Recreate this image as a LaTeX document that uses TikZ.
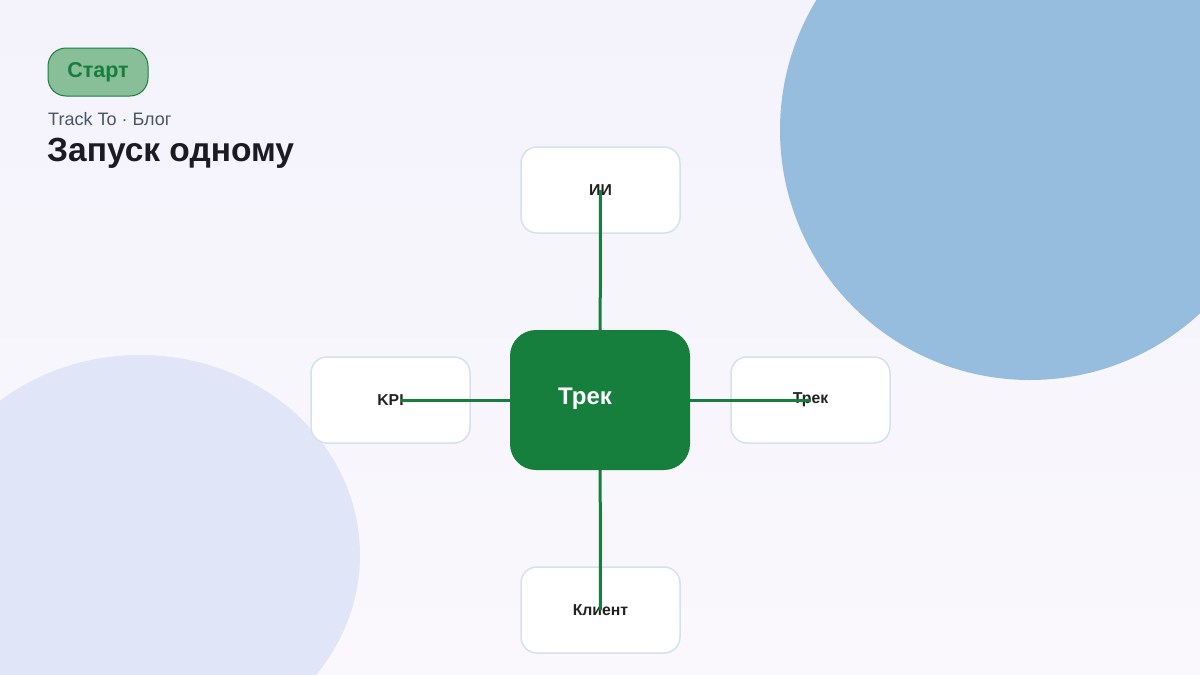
\documentclass[tikz,border=0pt]{standalone}
\usepackage{fontspec}
\setmainfont{Liberation Sans}
\definecolor{bgtop}{HTML}{F4F3FC}
\definecolor{bgbot}{HTML}{FAF8FC}
\definecolor{circA}{HTML}{97BDDE}
\definecolor{circB}{HTML}{E0E5F7}
\definecolor{brand}{HTML}{177F3E}
\definecolor{badge}{HTML}{88BF98}
\definecolor{satline}{HTML}{D5E1EC}
\definecolor{subgrey}{HTML}{4A5568}
\definecolor{titleink}{HTML}{1C1B22}
\definecolor{satink}{HTML}{222222}
\tikzset{
  sat/.style={draw=satline, line width=1.5pt, fill=white, rounded corners=16pt,
    minimum width=159pt, minimum height=86pt, inner sep=0pt,
    font=\fontsize{15.8}{18}\selectfont\bfseries, text=satink},
  hub/.style={fill=brand, rounded corners=26pt, minimum width=180pt, minimum height=140pt, inner sep=0pt},
  link/.style={draw=brand, line width=3pt},
}
\begin{document}
\begin{tikzpicture}[x=1pt,y=-1pt]
\useasboundingbox (0,0) rectangle (1200,675);
\shade[top color=bgtop, bottom color=bgbot] (0,0) rectangle (1200,675);
\clip (0,0) rectangle (1200,675);
\fill[circA] (1030,130) circle (250);
\fill[circB] (140,555) ellipse [x radius=220, y radius=200];
% badge and titles
\node[draw=brand, line width=1pt, fill=badge, rounded corners=18pt, minimum width=100pt, minimum height=48pt, inner sep=0pt, text=brand, font=\fontsize{21.5}{24}\selectfont\bfseries] (start) at (98,72) {\raisebox{-1.5pt}{Старт}};
\node[anchor=base west, inner sep=0pt, text=subgrey, font=\fontsize{18}{20}\selectfont] (sub) at (48,125) {Track To · Блог};
\node[anchor=base west, inner sep=0pt, text=titleink, font=\fontsize{33.5}{36}\selectfont\bfseries] (title) at (47,161) {Запуск одному};
% satellites
\node[sat] (top) at (600.5,190) {ИИ};
\node[sat] (left) at (390.5,400) {KPI};
\node[sat] (right) at (810.5,400) {Трек};
\node[sat] (bottom) at (600.5,610) {Клиент};
% hub
\coordinate (hubc) at (600,400);
\draw[link] (hubc) -- (top.center);
\draw[link] (hubc) -- ([xshift=10pt]left.center);
\draw[link] (hubc) -- (right.center);
\draw[link] (hubc) -- (bottom.center);
\node[hub] (hub) at (600,400) {};
\node[text=white, font=\fontsize{24}{28}\selectfont\bfseries, inner sep=0pt] (hublabel) at (585,399) {Трек};
\end{tikzpicture}
\end{document}
